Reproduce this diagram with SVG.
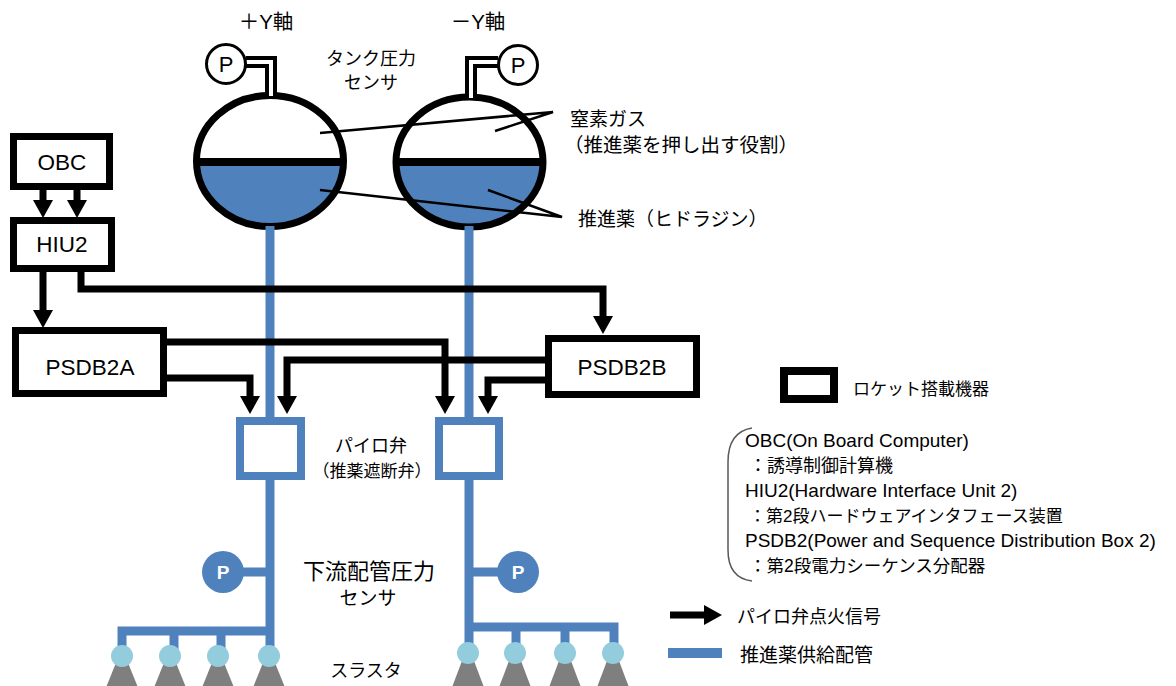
<svg xmlns="http://www.w3.org/2000/svg" width="1176" height="686" viewBox="0 0 1176 686">
  <style>
    text { font-family: "Liberation Sans", "Noto Sans CJK JP", sans-serif; fill: #000; }
    .box { fill: #fff; stroke: #000; stroke-width: 7; }
    .sig { fill: none; stroke: #000; stroke-width: 7; stroke-linejoin: miter; }
    .pipe { fill: none; stroke: #4f81bd; stroke-width: 9; stroke-linejoin: miter; }
    .valve { fill: #fff; stroke: #4f81bd; stroke-width: 8; }
    .tank { fill: none; stroke: #000; stroke-width: 7; }
    .liquid { fill: #4f81bd; }
    .lead { fill: none; stroke: #000; stroke-width: 2.5; }
    .head { fill: #93cddd; }
    .cone { fill: #7f7f7f; }
    .c { text-anchor: middle; }
    .lbl { font-size: 22.5px; }
  </style>
  <defs>
    <marker id="arrow" markerUnits="userSpaceOnUse" viewBox="0 0 18 20" markerWidth="18" markerHeight="20" refX="0" refY="10" orient="auto">
      <path d="M0,0 L18,10 L0,20 z" fill="#000"/>
    </marker>
  </defs>

  <!-- propellant tanks -->
  <g id="tank-plus-y">
    <ellipse cx="270" cy="161" rx="73.5" ry="65.5" fill="#fff"/>
    <path class="liquid" d="M196.5,161 A73.5,65.5 0 0 0 343.5,161 Z"/>
    <line x1="196" y1="162" x2="344" y2="162" stroke="#000" stroke-width="8"/>
    <ellipse class="tank" cx="270" cy="161" rx="73.5" ry="65.5"/>
    <polyline points="246,62 271,62 271,96" fill="none" stroke="#000" stroke-width="12"/>
    <polyline points="246,62 271,62 271,96" fill="none" stroke="#fff" stroke-width="4"/>
    <circle cx="226" cy="64" r="19.5" fill="#fff" stroke="#000" stroke-width="3"/>
    <text class="c" x="226" y="72" font-size="22">P</text>
  </g>
  <g id="tank-minus-y">
    <ellipse cx="469.5" cy="162" rx="73.5" ry="65" fill="#fff"/>
    <path class="liquid" d="M396,162 A73.5,65 0 0 0 543,162 Z"/>
    <line x1="395" y1="162" x2="544" y2="162" stroke="#000" stroke-width="8"/>
    <ellipse class="tank" cx="469.5" cy="162" rx="73.5" ry="65"/>
    <polyline points="498,62 471,62 471,98" fill="none" stroke="#000" stroke-width="12"/>
    <polyline points="498,62 471,62 471,98" fill="none" stroke="#fff" stroke-width="4"/>
    <circle cx="518" cy="65" r="19.5" fill="#fff" stroke="#000" stroke-width="3"/>
    <text class="c" x="518" y="73" font-size="22">P</text>
  </g>

  <!-- leader lines to tank labels -->
  <g id="leaders">
    <polyline class="lead" points="320,133 553,112 495,131"/>
    <polyline class="lead" points="320,190 562,217 488,190"/>
  </g>

  <!-- propellant feed piping -->
  <g id="piping">
    <path class="pipe" d="M270,226 V421"/>
    <path class="pipe" d="M469,226 V421"/>
    <path class="pipe" d="M270,476 V656"/>
    <path class="pipe" d="M469,476 V653"/>
    <path class="pipe" d="M223,572 H270"/>
    <path class="pipe" d="M469,572 H518"/>
    <path class="pipe" d="M122,656 V631 H270"/>
    <path class="pipe" d="M174,631 V652"/>
    <path class="pipe" d="M221,631 V652"/>
    <path class="pipe" d="M469,627 H614 V652"/>
    <path class="pipe" d="M516,627 V650"/>
    <path class="pipe" d="M565,627 V650"/>
  </g>

  <!-- pyro valves -->
  <g id="valve-1"><rect class="valve" x="240" y="421" width="61" height="55"/></g>
  <g id="valve-2"><rect class="valve" x="439" y="421" width="60" height="55"/></g>

  <!-- downstream pressure sensors -->
  <g id="sensor-down-1">
    <circle cx="223" cy="572" r="21" fill="#4f81bd"/>
    <text class="c" x="223" y="579" font-size="19" font-weight="bold" style="fill:#fff">P</text>
  </g>
  <g id="sensor-down-2">
    <circle cx="518" cy="572" r="21" fill="#4f81bd"/>
    <text class="c" x="518" y="579" font-size="19" font-weight="bold" style="fill:#fff">P</text>
  </g>

  <!-- thrusters -->
  <g id="thrusters-1">
    <polygon class="cone" points="122,648 139,690 105,690"/>
    <polygon class="cone" points="170,648 187,690 153,690"/>
    <polygon class="cone" points="218,648 235,690 201,690"/>
    <polygon class="cone" points="269,648 286,690 252,690"/>
    <circle class="head" cx="122" cy="656" r="11"/>
    <circle class="head" cx="170" cy="656" r="11"/>
    <circle class="head" cx="218" cy="656" r="11"/>
    <circle class="head" cx="269" cy="656" r="11"/>
  </g>
  <g id="thrusters-2">
    <polygon class="cone" points="468,645 485,690 451,690"/>
    <polygon class="cone" points="515,645 532,690 498,690"/>
    <polygon class="cone" points="565,645 582,690 548,690"/>
    <polygon class="cone" points="613,645 630,690 596,690"/>
    <circle class="head" cx="468" cy="653" r="11"/>
    <circle class="head" cx="515" cy="653" r="11"/>
    <circle class="head" cx="565" cy="653" r="11"/>
    <circle class="head" cx="613" cy="653" r="11"/>
  </g>

  <!-- onboard electronics -->
  <g id="obc">
    <rect class="box" x="13.5" y="136.5" width="96" height="50"/>
    <text class="c lbl" x="62" y="170">OBC</text>
  </g>
  <g id="hiu2">
    <rect class="box" x="13.5" y="220.5" width="98" height="48"/>
    <text class="c lbl" x="62" y="252">HIU2</text>
  </g>
  <g id="psdb2a">
    <rect class="box" x="15.5" y="330.5" width="148" height="63"/>
    <text class="c lbl" x="90" y="375">PSDB2A</text>
  </g>
  <g id="psdb2b">
    <rect class="box" x="548.5" y="338.5" width="148" height="56"/>
    <text class="c lbl" x="622" y="375">PSDB2B</text>
  </g>

  <!-- pyro firing signals -->
  <g id="signals">
    <path class="sig" d="M43,187 V200" marker-end="url(#arrow)"/>
    <path class="sig" d="M77,187 V200" marker-end="url(#arrow)"/>
    <path class="sig" d="M43,268 V310" marker-end="url(#arrow)"/>
    <path class="sig" d="M81,268 V289 H603 V316" marker-end="url(#arrow)"/>
    <path class="sig" d="M163,342 H445 V396" marker-end="url(#arrow)"/>
    <path class="sig" d="M163,378 H250 V396" marker-end="url(#arrow)"/>
    <path class="sig" d="M549,360 H287 V396" marker-end="url(#arrow)"/>
    <path class="sig" d="M549,380 H488 V396" marker-end="url(#arrow)"/>
  </g>

  <!-- labels -->
  <g id="labels">
    <text class="c" x="266" y="29" font-size="20.5">＋Y軸</text>
    <text class="c" x="478" y="29" font-size="20.5">－Y軸</text>
    <text class="c" x="371" y="65" font-size="18">タンク圧力</text>
    <text class="c" x="371" y="89" font-size="18">センサ</text>
    <text x="570" y="126" font-size="19">窒素ガス</text>
    <text x="564" y="152" font-size="19.5">（推進薬を押し出す役割）</text>
    <text x="578" y="226" font-size="19">推進薬（ヒドラジン）</text>
    <text class="c" x="371" y="452" font-size="18">パイロ弁</text>
    <text class="c" x="372" y="477" font-size="17">（推薬遮断弁）</text>
    <text x="303" y="579" font-size="22">下流配管圧力</text>
    <text class="c" x="368" y="605" font-size="19">センサ</text>
    <text class="c" x="366" y="677" font-size="18">スラスタ</text>
  </g>

  <!-- legend -->
  <g id="legend">
    <rect class="box" x="784" y="371" width="50" height="28" style="stroke-width:8"/>
    <text x="853" y="395" font-size="17">ロケット搭載機器</text>
    <path d="M752,428 Q728,432 728,462 L728,550 Q728,578 752,581" fill="none" stroke="#595959" stroke-width="1.5"/>
    <text x="745" y="447" font-size="19">OBC(On Board Computer)</text>
    <text x="749" y="472" font-size="18">：誘導制御計算機</text>
    <text x="745" y="497" font-size="19">HIU2(Hardware Interface Unit 2)</text>
    <text x="749" y="522" font-size="17">：第2段ハードウェアインタフェース装置</text>
    <text x="745" y="547" font-size="19">PSDB2(Power and Sequence Distribution Box 2)</text>
    <text x="749" y="572" font-size="17.5">：第2段電力シーケンス分配器</text>
    <path class="sig" d="M670,615 H704" marker-end="url(#arrow)"/>
    <text x="737" y="623" font-size="18">パイロ弁点火信号</text>
    <line x1="668" y1="653" x2="722" y2="653" stroke="#4f81bd" stroke-width="10"/>
    <text x="740" y="662" font-size="19">推進薬供給配管</text>
  </g>
</svg>
